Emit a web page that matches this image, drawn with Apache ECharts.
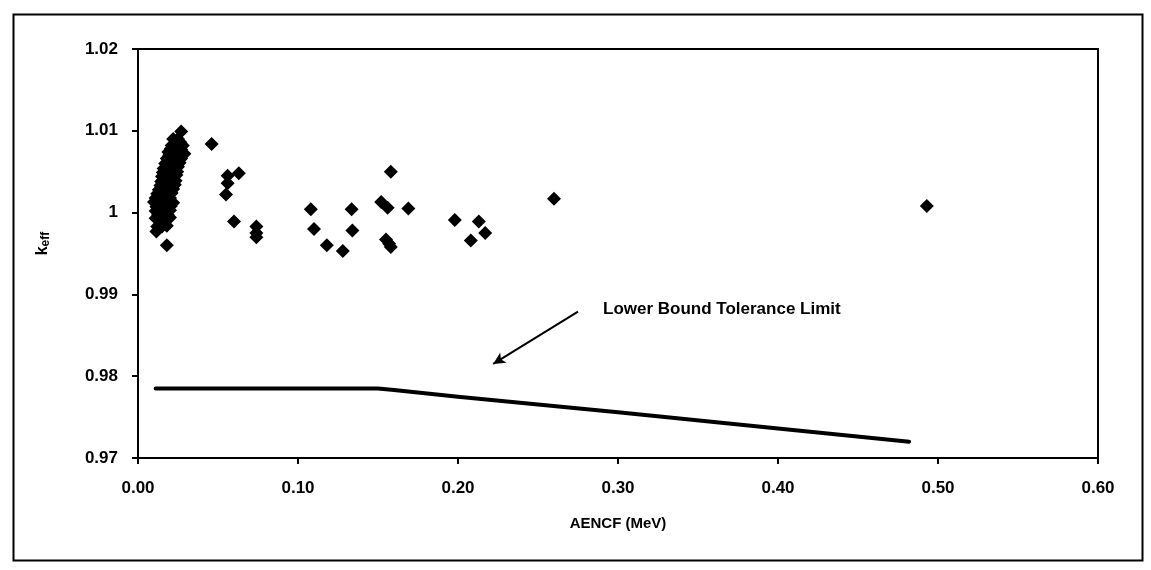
<!DOCTYPE html>
<html>
<head>
<meta charset="utf-8">
<script src="https://cdn.jsdelivr.net/npm/echarts@6/dist/echarts.min.js"></script>
<style>
  html, body { margin: 0; padding: 0; background: #fff; }
  #chart { width: 1151px; height: 570px; }
</style>
</head>
<body>
<div id="chart"></div>
<script>
// measured points: [AENCF (MeV), keff]
var keffPoints = [
  [0.027, 1.0099],
  [0.022, 1.0090], [0.025, 1.0090],
  [0.021, 1.0082], [0.024, 1.0082], [0.028, 1.0082], [0.0265, 1.0086],
  [0.019, 1.0074], [0.022, 1.0074], [0.025, 1.0074], [0.029, 1.0072],
  [0.0205, 1.0078], [0.0235, 1.0078], [0.027, 1.0077],
  [0.018, 1.0066], [0.021, 1.0066], [0.024, 1.0066], [0.027, 1.0066],
  [0.0195, 1.0070], [0.0225, 1.0070], [0.0255, 1.0070],
  [0.017, 1.0060], [0.020, 1.0060], [0.023, 1.0060], [0.026, 1.0061],
  [0.016, 1.0054], [0.019, 1.0054], [0.022, 1.0054], [0.025, 1.0056],
  [0.0155, 1.0049], [0.0185, 1.0049], [0.0215, 1.0049], [0.0245, 1.0050],
  [0.015, 1.0044], [0.018, 1.0044], [0.021, 1.0044], [0.024, 1.0046],
  [0.0145, 1.0038], [0.0175, 1.0038], [0.0205, 1.0038], [0.0235, 1.0039],
  [0.014, 1.0033], [0.017, 1.0033], [0.020, 1.0033], [0.023, 1.0034],
  [0.013, 1.0028], [0.016, 1.0028], [0.019, 1.0028], [0.022, 1.0029],
  [0.012, 1.0023], [0.015, 1.0023], [0.018, 1.0023], [0.021, 1.0024],
  [0.011, 1.0018], [0.014, 1.0018], [0.017, 1.0018], [0.020, 1.0018],
  [0.010, 1.0013], [0.013, 1.0013], [0.016, 1.0013], [0.019, 1.0013], [0.022, 1.0012],
  [0.0115, 1.0007], [0.0145, 1.0007], [0.0175, 1.0007], [0.0205, 1.0008],
  [0.011, 1.0002], [0.014, 1.0002], [0.017, 1.0002], [0.020, 1.0003],
  [0.0125, 0.9997], [0.0155, 0.9997], [0.0185, 0.9998],
  [0.011, 0.9993], [0.014, 0.9993], [0.017, 0.9993], [0.020, 0.9994],
  [0.012, 0.9983], [0.015, 0.9983], [0.018, 0.9984], [0.0165, 0.9988],
  [0.0115, 0.9977], [0.018, 0.9960],
  [0.046, 1.0084],
  [0.056, 1.0045], [0.063, 1.0048], [0.056, 1.0036], [0.055, 1.0022],
  [0.060, 0.9989],
  [0.074, 0.9983], [0.074, 0.9975], [0.074, 0.9970],
  [0.108, 1.0004], [0.110, 0.9980], [0.118, 0.9960],
  [0.128, 0.9953], [0.1335, 1.0004], [0.134, 0.9978],
  [0.152, 1.0013], [0.156, 1.0006], [0.158, 1.0050], [0.169, 1.0005],
  [0.155, 0.9967], [0.157, 0.9962], [0.158, 0.9958],
  [0.198, 0.9991], [0.208, 0.9966], [0.213, 0.9989], [0.217, 0.9975],
  [0.260, 1.0017],
  [0.493, 1.0008]
];
// lower bound tolerance limit
var lowerBound = [
  [0.011, 0.9785], [0.150, 0.9785], [0.160, 0.9783], [0.200, 0.9775],
  [0.300, 0.9756], [0.400, 0.9736], [0.482, 0.9720]
];
var xTicks = [0, 0.6, 0.1];
var yTicks = [0.97, 1.02, 0.01];
// annotation arrow (tail, tip) in data units
var arrowFrom = [0.275, 0.9879];
var arrowTo = [0.222, 0.9815];

var chart = echarts.init(document.getElementById('chart'));
var font = '"Liberation Sans", Arial, sans-serif';
chart.setOption({
  animation: false,
  backgroundColor: '#fff',
  grid: {
    left: 138, right: 53, top: 49, bottom: 112,
    show: true, borderColor: '#000', borderWidth: 2
  },
  xAxis: {
    type: 'value',
    min: xTicks[0], max: xTicks[1], interval: xTicks[2],
    name: 'AENCF (MeV)',
    nameLocation: 'middle',
    nameGap: 58,
    nameTextStyle: { color: '#000', fontFamily: font, fontWeight: 'bold', fontSize: 15 },
    axisLine: { lineStyle: { color: '#000', width: 2 } },
    axisTick: { inside: false, length: 6, lineStyle: { color: '#000', width: 2 } },
    axisLabel: {
      color: '#000', fontFamily: font, fontWeight: 'bold', fontSize: 17, margin: 22,
      formatter: function (v) { return v.toFixed(2); }
    },
    splitLine: { show: false }
  },
  yAxis: {
    type: 'value',
    min: yTicks[0], max: yTicks[1], interval: yTicks[2],
    name: '{k|k}{s|eff}',
    nameLocation: 'middle',
    nameGap: 86,
    nameRotate: 90,
    nameTextStyle: {
      padding: [0, 0, 0, 20],
      rich: {
        k: { color: '#000', fontFamily: font, fontWeight: 'bold', fontSize: 16 },
        s: { color: '#000', fontFamily: font, fontWeight: 'bold', fontSize: 12, verticalAlign: 'bottom', padding: [7, 0, 0, 0] }
      }
    },
    axisLine: { lineStyle: { color: '#000', width: 2 } },
    axisTick: { inside: false, length: 6, lineStyle: { color: '#000', width: 2 } },
    axisLabel: {
      color: '#000', fontFamily: font, fontWeight: 'bold', fontSize: 17, margin: 20,
      formatter: function (v) { return String(+v.toFixed(2)); }
    },
    splitLine: { show: false }
  },
  series: [
    {
      type: 'scatter',
      data: keffPoints,
      symbol: 'diamond',
      symbolSize: 14,
      itemStyle: { color: '#000', opacity: 1 }
    },
    {
      type: 'line',
      data: lowerBound,
      showSymbol: false,
      lineStyle: { color: '#000', width: 4, cap: 'round', join: 'round' },
      markLine: {
        silent: true,
        symbol: ['none', 'arrow'],
        symbolSize: [9, 12],
        label: { show: false },
        lineStyle: { color: '#000', width: 2, type: 'solid' },
        data: [[{ coord: arrowFrom }, { coord: arrowTo }]]
      }
    }
  ],
  graphic: [
    {
      type: 'rect', left: 11, top: 12, silent: true,
      shape: { width: 1129, height: 546 },
      style: { fill: 'none', stroke: '#000', lineWidth: 2 }
    },
    {
      type: 'text', left: 603, top: 301, silent: true,
      style: { text: 'Lower Bound Tolerance Limit', fill: '#000', font: 'bold 17px ' + font }
    }
  ]
});
</script>
</body>
</html>
